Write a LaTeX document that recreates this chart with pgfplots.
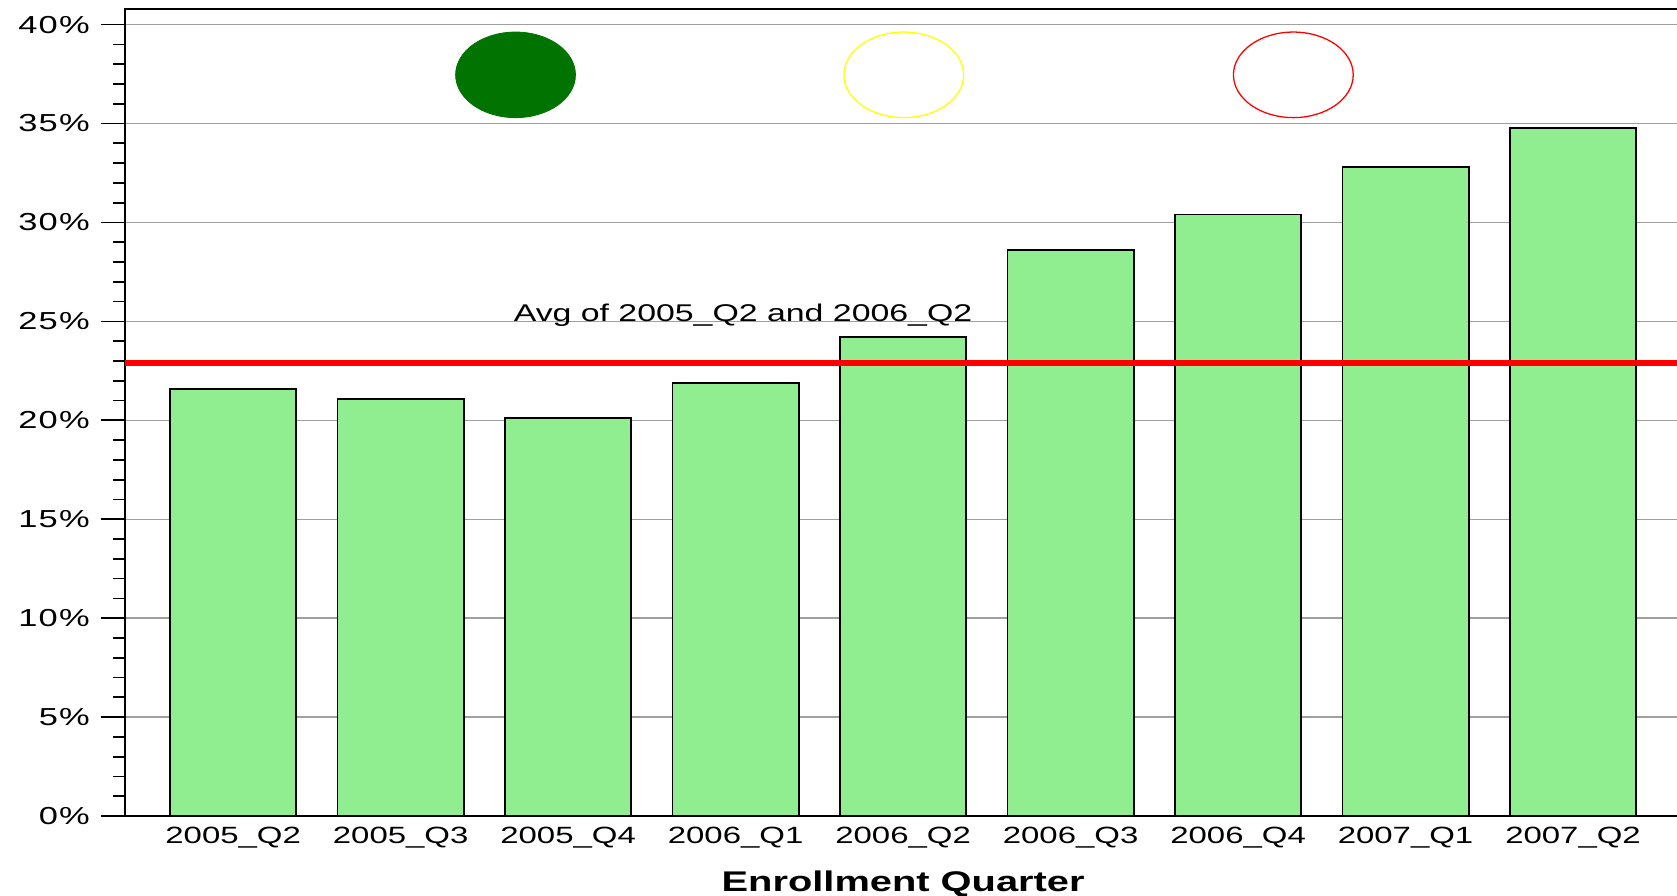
\documentclass[border=0pt]{standalone}
\usepackage{pgfplots}
\pgfplotsset{compat=1.18}
\usepackage{fontspec}
\setmainfont{Liberation Sans}[FakeStretch=1.4]
\definecolor{barfill}{HTML}{90EE90}
\definecolor{dotgreen}{HTML}{007300}
\definecolor{gridgray}{HTML}{A0A0A0}
\definecolor{ylw}{HTML}{FFFF00}
\begin{document}
\begin{tikzpicture}
\path[use as bounding box] (-58.5pt,-37pt) rectangle (725.5pt,381.5pt);
\begin{axis}[
  at={(0,0)}, anchor=south west,
  scale only axis, width=727.4pt, height=377.5pt,
  xmin=-0.645, xmax=8.645, ymin=0, ymax=40.81,
  xtick={0,1,2,3,4,5,6,7,8},
  xticklabels={2005\_Q2,2005\_Q3,2005\_Q4,2006\_Q1,2006\_Q2,2006\_Q3,2006\_Q4,2007\_Q1,2007\_Q2},
  ytick={0,5,10,15,20,25,30,35,40},
  yticklabels={0\%,5\%,10\%,15\%,20\%,25\%,30\%,35\%,40\%},
  minor y tick num=4,
  tick pos=left,
  tick align=outside,
  major tick length=11.5pt,
  minor tick length=5.5pt,
  x tick style={draw=none},
  y tick style={black, line width=0.8pt},
  axis line style={black, line width=0.9pt},
  ymajorgrids,
  major grid style={gridgray, line width=0.7pt},
  every tick label/.append style={font=\fontsize{11pt}{13pt}\selectfont},
  xticklabel style={anchor=base, yshift=-1.3pt},
  yticklabel style={anchor=east, xshift=-1.5pt, font=\fontsize{11.5pt}{13pt}\selectfont\addfontfeature{LetterSpace=5}},
  xlabel={Enrollment Quarter},
  xlabel style={font=\bfseries\fontsize{13.3pt}{15pt}\selectfont, at={(axis description cs:0.5,0)}, anchor=base, yshift=-35.5pt},
]
\addplot[ybar, bar width=59pt, fill=barfill, draw=black, line width=0.85pt] coordinates {
  (0,21.57) (1,21.08) (2,20.10) (3,21.90) (4,24.20) (5,28.60) (6,30.40) (7,32.80) (8,34.76)
};
\addplot[red, line width=2.5pt] coordinates {(-0.645,22.9) (8.645,22.9)};
\addplot[only marks, mark=*, mark size=20pt, mark options={xscale=1.4, fill=dotgreen, draw=dotgreen}] coordinates {(1.686,37.46)};
\addplot[only marks, mark=o, mark size=20pt, mark options={xscale=1.4, draw=ylw, line width=0.6pt}] coordinates {(4.004,37.46)};
\addplot[only marks, mark=o, mark size=20pt, mark options={xscale=1.4, draw=red, line width=0.6pt}] coordinates {(6.33,37.46)};
\node[anchor=base west, inner sep=0pt, font=\fontsize{11.3pt}{13pt}\selectfont] at (axis cs:1.673,25.0) {Avg of 2005\_Q2 and 2006\_Q2};
\end{axis}
\end{tikzpicture}
\end{document}
